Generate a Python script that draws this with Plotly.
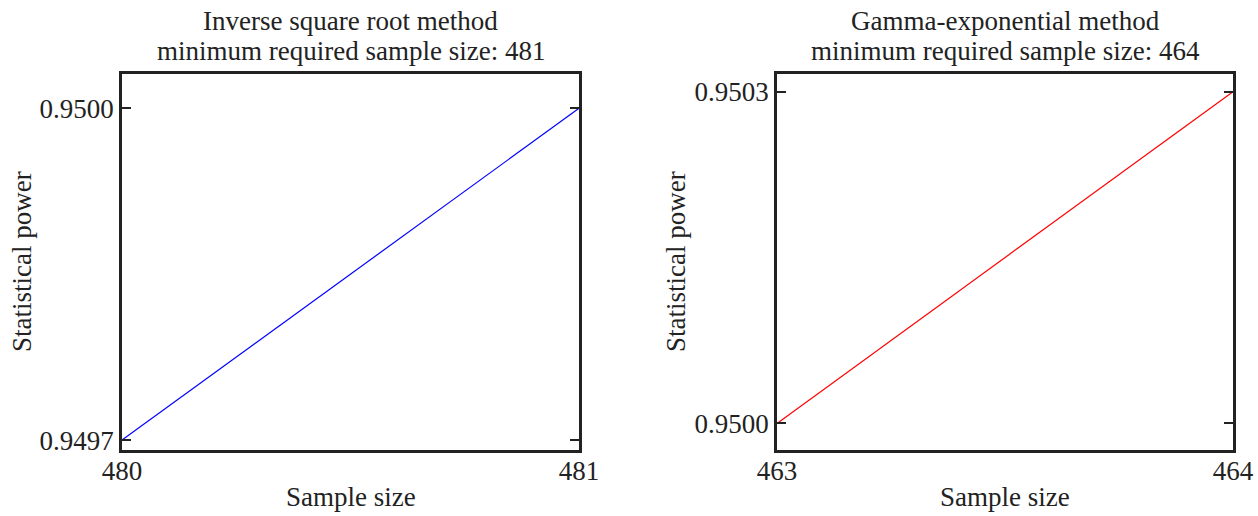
import plotly.graph_objects as go

# Data
left_sizes = [480, 481]
left_power = [0.9497, 0.9500]
right_sizes = [463, 464]
right_power = [0.9500, 0.9503]
left_title = ["Inverse square root method", "minimum required sample size: 481"]
right_title = ["Gamma-exponential method", "minimum required sample size: 464"]
x_label = "Sample size"
y_label = "Statistical power"

W, H = 1258, 516
FONT = "Liberation Serif, Times New Roman, serif"
FS = 27
TC = "#222222"
AX = "#222222"

fig = go.Figure()
fig.add_trace(go.Scatter(x=left_sizes, y=left_power, mode="lines",
                         line=dict(color="#0000ff", width=1.2),
                         xaxis="x", yaxis="y", showlegend=False))
fig.add_trace(go.Scatter(x=right_sizes, y=right_power, mode="lines",
                         line=dict(color="#ff0000", width=1.2),
                         xaxis="x2", yaxis="y2", showlegend=False))

def xax(domain, vals, anchor):
    return dict(domain=domain, range=[vals[0], vals[-1]], tickvals=vals,
                ticktext=[str(v) for v in vals], showgrid=False, zeroline=False,
                showline=True, linecolor=AX, linewidth=2.5, mirror=True,
                ticks="", automargin=False, anchor=anchor, ticklabelstandoff=-5,
                tickfont=dict(family=FONT, size=FS, color=TC))

def yax(domain, vals, rng, anchor):
    return dict(domain=domain, range=rng, tickvals=vals,
                ticktext=["%.4f" % v for v in vals], showgrid=False, zeroline=False,
                showline=True, linecolor=AX, linewidth=2.5, mirror="ticks",
                ticks="inside", ticklen=9, tickwidth=2, tickcolor=AX, anchor=anchor,
                automargin=False, tickfont=dict(family=FONT, size=FS, color=TC))

x1d = [122 / W, 579 / W]
x2d = [777 / W, 1233 / W]
ydom = [(H - 450) / H, (H - 74) / H]

def ann(text, x, y, xanchor="center", yanchor="middle", angle=0):
    return dict(text=text, x=x / W, y=(H - y) / H, xref="paper", yref="paper",
                xanchor=xanchor, yanchor=yanchor, showarrow=False, textangle=angle,
                font=dict(family=FONT, size=FS, color=TC))

fig.update_layout(
    width=W, height=H,
    margin=dict(l=0, r=0, t=0, b=0),
    plot_bgcolor="white", paper_bgcolor="white",
    xaxis=xax(x1d, left_sizes, "y"),
    yaxis=yax(ydom, left_power, [0.949691, 0.950031], "x"),
    xaxis2=xax(x2d, right_sizes, "y2"),
    yaxis2=yax(ydom, right_power, [0.949976, 0.950316], "x2"),
    annotations=[
        ann(left_title[0], 350.5, 21),
        ann(left_title[1], 350.5, 51),
        ann(right_title[0], 1005, 21),
        ann(right_title[1], 1005, 51),
        ann(x_label, 350.5, 497),
        ann(x_label, 1005, 497),
        ann(y_label, 22, 262, angle=-90),
        ann(y_label, 676, 262, angle=-90),
    ],
)

fig.write_html(
    "out.html",
    config={"displayModeBar": False},
    post_script="document.body.style.margin='0';document.body.style.overflow='hidden';",
)
